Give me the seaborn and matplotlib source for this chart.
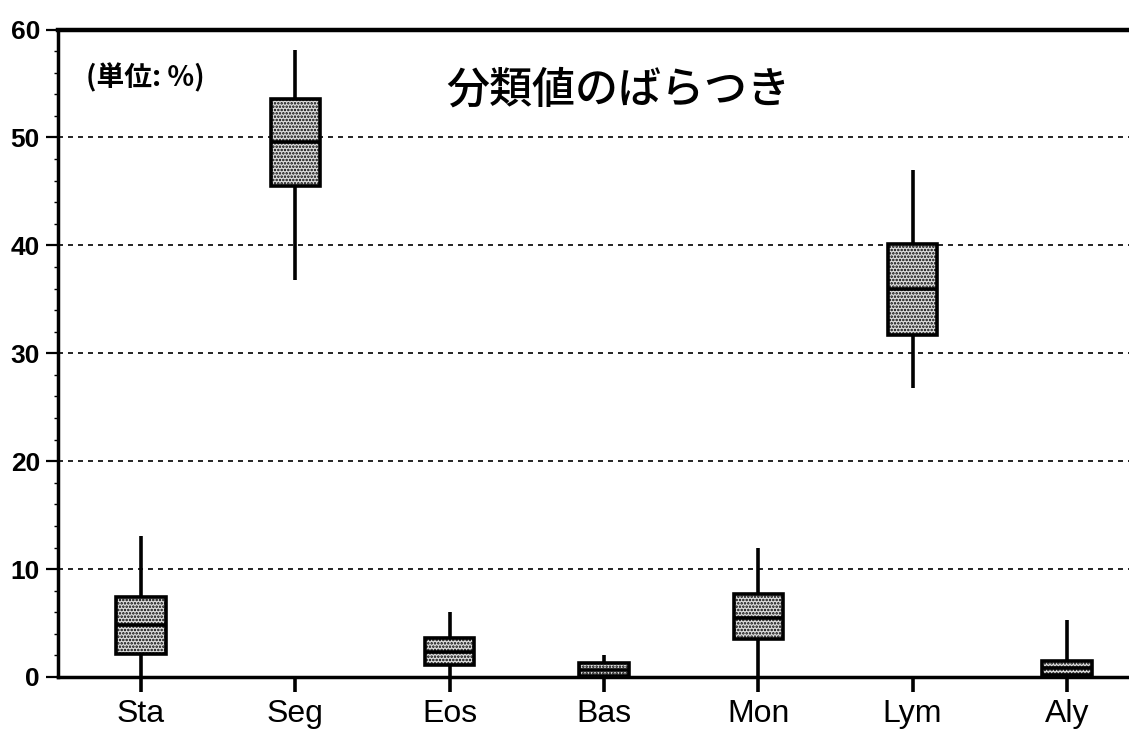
import pandas as pd
import matplotlib
matplotlib.use("Agg")
import matplotlib.pyplot as plt
import seaborn as sns

# five-number summaries (whiskers = min/max)
cats = ['Sta', 'Seg', 'Eos', 'Bas', 'Mon', 'Lym', 'Aly']
mins = [0.0, 36.8, 0.0, 0.0, 0.0, 26.8, 0.0]
q1s = [2.1, 45.5, 1.1, 0.05, 3.5, 31.7, 0.15]
meds = [4.8, 49.6, 2.3, 0.65, 5.5, 36.0, 0.8]
q3s = [7.4, 53.6, 3.65, 1.3, 7.7, 40.1, 1.45]
maxs = [13.1, 58.1, 6.0, 2.0, 12.0, 47.0, 5.3]

#build long-form table: 5 points per category give exact quartiles
rows = []
for i in range(len(cats)):
    for v in [mins[i], q1s[i], meds[i], q3s[i], maxs[i]]:
        rows.append({'cat': cats[i], 'val': v})
df = pd.DataFrame(rows)

sns.set_style("white")
plt.rcParams['hatch.linewidth'] = 1.2
plt.rcParams['font.family'] = ['Liberation Sans', 'DejaVu Sans']
plt.rcParams['text.color'] = 'black'
plt.rcParams['xtick.color'] = 'black'
plt.rcParams['ytick.color'] = 'black'
plt.rcParams['xtick.labelcolor'] = 'black'
plt.rcParams['ytick.labelcolor'] = 'black'

fig = plt.figure(figsize=(11.29, 7.35), dpi=100)
ax = fig.add_axes([58/1129, 1-677/735, 1-58/1129, (677-29.5)/735])

sns.boxplot(data=df, x='cat', y='val', order=cats, whis=(0, 100), width=0.32,
            showcaps=False, linecolor='black', linewidth=2.6,
            boxprops=dict(facecolor='#dcdcdc', edgecolor='black', hatch='.....', zorder=3),
            whiskerprops=dict(zorder=2), medianprops=dict(zorder=4), ax=ax)

#dotted gridlines
for g in [10, 20, 30, 40, 50]:
    ax.axhline(g, color='black', lw=1.2, ls=(0, (3, 3)), zorder=1)

ax.set_ylim(0, 60)
ax.set_xlim(-0.538, 6.403)
ax.set_yticks([0, 10, 20, 30, 40, 50, 60])
ax.set_yticks(range(0, 61, 2), minor=True)
ax.set_xlabel('')
ax.set_ylabel('')

for s in ['left', 'bottom']:
    ax.spines[s].set_linewidth(2.5)
ax.spines['top'].set_linewidth(3.2)
ax.spines['right'].set_visible(False)
for s in ax.spines.values():
    s.set_color('black')

ax.tick_params(axis='y', which='major', direction='out', length=9, width=1.6,
               labelsize=19, pad=4, left=True, colors='black')
ax.tick_params(axis='y', which='minor', direction='out', length=3, width=1.0, left=True)
ax.tick_params(axis='x', direction='out', length=11, width=2.6, labelsize=23, pad=5,
               bottom=True, colors='black')
for t in ax.get_yticklabels():
    t.set_fontweight('bold')

fig.text(618/1129, 1-90/735, '分類値のばらつき', ha='center', va='center', fontsize=31,
         fontweight='medium', family=['Noto Sans CJK JP', 'DejaVu Sans'])
fig.text(86/1129, 1-78/735, '(単位: %)', ha='left', va='center', fontsize=20,
         fontweight='bold', family=['Noto Sans CJK JP', 'DejaVu Sans'])

plt.savefig('out.png', dpi=100)
